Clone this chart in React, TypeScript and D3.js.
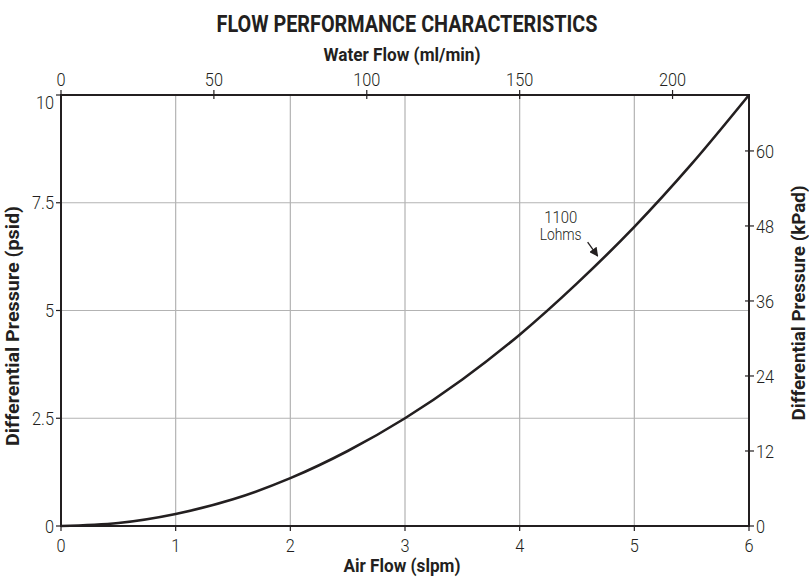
import React, { useEffect, useRef } from 'react'
import * as d3 from 'd3'

// values
const airFlow = [0, 0.5, 1, 1.5, 2, 2.5, 3, 3.5, 4, 4.5, 5, 5.5, 6]
const pressurePsid = [0, 0.07, 0.28, 0.62, 1.11, 1.74, 2.5, 3.4, 4.44, 5.63, 6.94, 8.4, 10]
const airTicks = [0, 1, 2, 3, 4, 5, 6]
const psidTicks = [0, 2.5, 5, 7.5, 10]
const kpadTicks = [0, 12, 24, 36, 48, 60]
const waterTicks = [0, 50, 100, 150, 200]
const waterMax = 225
const kpadMax = 68.95
const labelAir = 4.68
const labelLines = ['1100', 'Lohms']

const FONT = 'Roboto, "DejaVu Sans Condensed", sans-serif'
const INK = '#231f20'

export default function App() {
  const ref = useRef<SVGSVGElement | null>(null)

  useEffect(() => {
    document.body.style.margin = '0'
    const width = 809
    const height = 577
    const margin = { top: 95, right: 60, bottom: 51, left: 61 }
    const innerW = width - margin.left - margin.right
    const innerH = height - margin.top - margin.bottom

    const svg = d3.select(ref.current)
    svg.selectAll('*').remove()
    svg.attr('width', width).attr('height', height)
      .style('font-family', FONT)

    const g = svg.append('g').attr('transform', `translate(${margin.left}, ${margin.top})`)

    const x = d3.scaleLinear().domain([0, 6]).range([0, innerW])
    const y = d3.scaleLinear().domain([0, 10]).range([innerH, 0])
    const xTop = d3.scaleLinear().domain([0, waterMax]).range([0, innerW])
    const yRight = d3.scaleLinear().domain([0, kpadMax]).range([innerH, 0])

    // narrow light label, squeezed horizontally like the condensed face in the original
    const label = (px: number, py: number, s: string | number, anchor: string, dy = '0') =>
      g.append('text')
        .attr('transform', `translate(${px}, ${py}) scale(0.86, 1)`)
        .attr('dy', dy)
        .attr('text-anchor', anchor)
        .attr('font-size', 19).attr('font-weight', 300)
        .attr('fill', INK).text(s)

    // grid
    g.selectAll('line.vgrid')
      .data(airTicks.slice(1, -1))
      .enter().append('line')
      .attr('x1', d => x(d)).attr('x2', d => x(d))
      .attr('y1', 0).attr('y2', innerH)
      .attr('stroke', '#b3b3b3').attr('stroke-width', 1.2)
    g.selectAll('line.hgrid')
      .data(psidTicks.slice(1, -1))
      .enter().append('line')
      .attr('x1', 0).attr('x2', innerW)
      .attr('y1', d => y(d)).attr('y2', d => y(d))
      .attr('stroke', '#b3b3b3').attr('stroke-width', 1.2)

    // frame
    g.append('rect')
      .attr('width', innerW).attr('height', innerH)
      .attr('fill', 'none').attr('stroke', INK).attr('stroke-width', 2)

    const tickStyle = (sel: any) => sel.attr('stroke', INK).attr('stroke-width', 1.2)

    // bottom axis
    airTicks.forEach(t => {
      tickStyle(g.append('line').attr('x1', x(t)).attr('x2', x(t)).attr('y1', innerH).attr('y2', innerH + 5))
      label(x(t), innerH + 26, t, 'middle')
    })
    // top axis
    waterTicks.forEach(t => {
      tickStyle(g.append('line').attr('x1', xTop(t)).attr('x2', xTop(t)).attr('y1', -5).attr('y2', 4))
      label(xTop(t), -9, t, 'middle')
    })
    // left axis (the top label sits a little under its tick in the original)
    psidTicks.forEach(t => {
      tickStyle(g.append('line').attr('x1', -5).attr('x2', 0).attr('y1', y(t)).attr('y2', y(t)))
      label(-7, y(t), t, 'end', t === 10 ? '0.75em' : '0.35em')
    })
    // right axis
    kpadTicks.forEach(t => {
      tickStyle(g.append('line').attr('x1', innerW - 4).attr('x2', innerW + 5).attr('y1', yRight(t)).attr('y2', yRight(t)))
      label(innerW + 7, yRight(t), t, 'start', '0.35em')
    })

    // curve
    const line = d3.line<number>()
      .x((d, i) => x(airFlow[i]))
      .y(d => y(d))
      .curve(d3.curveMonotoneX)
    g.append('path')
      .datum(pressurePsid)
      .attr('d', line)
      .attr('fill', 'none').attr('stroke', INK).attr('stroke-width', 2.6)

    // annotation
    const bis = d3.bisector((d: number) => d).left
    const i = bis(airFlow, labelAir)
    const t = (labelAir - airFlow[i - 1]) / (airFlow[i] - airFlow[i - 1])
    const py = pressurePsid[i - 1] + t * (pressurePsid[i] - pressurePsid[i - 1])
    const ax = x(labelAir)
    const ay = y(py)
    svg.append('defs').append('marker')
      .attr('id', 'arrow').attr('viewBox', '0 0 10 10')
      .attr('refX', 9).attr('refY', 5)
      .attr('markerWidth', 7).attr('markerHeight', 7)
      .attr('orient', 'auto')
      .append('path').attr('d', 'M0,0 L10,5 L0,10 z').attr('fill', INK)
    g.append('line')
      .attr('x1', ax - 10).attr('y1', ay - 21)
      .attr('x2', ax).attr('y2', ay - 7)
      .attr('stroke', INK).attr('stroke-width', 1.3)
      .attr('marker-end', 'url(#arrow)')
    const annoWidths = [33, 42]
    labelLines.forEach((s, k) => {
      g.append('text')
        .attr('x', ax - 37).attr('y', ay - 40 + k * 17)
        .attr('text-anchor', 'middle').attr('font-size', 17).attr('font-weight', 300)
        .attr('textLength', annoWidths[k]).attr('lengthAdjust', 'spacingAndGlyphs')
        .attr('fill', INK).text(s)
    })

    // titles
    const title = (px: number, py: number, s: string, size: number, len: number, rot = false) =>
      svg.append('text')
        .attr('transform', `translate(${px}, ${py})${rot ? ' rotate(-90)' : ''}`)
        .attr('text-anchor', 'middle').attr('font-size', size).attr('font-weight', 'bold')
        .attr('textLength', len).attr('lengthAdjust', 'spacingAndGlyphs')
        .attr('fill', INK).text(s)
    title(407, 32, 'FLOW PERFORMANCE CHARACTERISTICS', 24, 381)
    title(402, 61, 'Water Flow (ml/min)', 18, 157)
    title(402, 572, 'Air Flow (slpm)', 18, 117)
    title(19, 326, 'Differential Pressure (psid)', 18, 240, true)
    title(805, 303, 'Differential Pressure (kPad)', 18, 235, true)
  }, [])

  return <svg ref={ref} style={{ display: 'block' }} />
}
